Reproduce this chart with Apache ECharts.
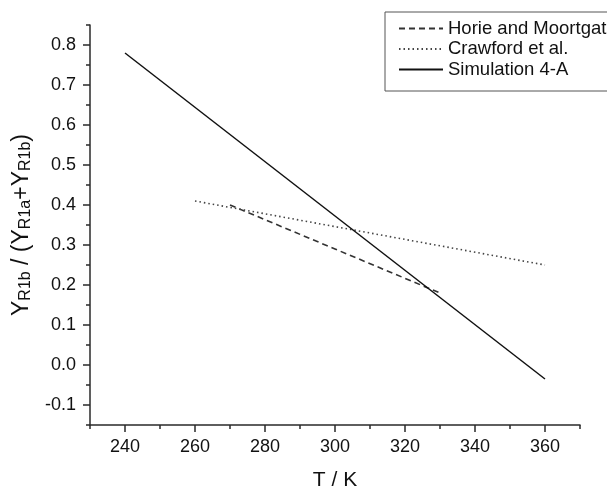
<!DOCTYPE html>
<html>
<head>
<meta charset="utf-8">
<script src="https://cdn.jsdelivr.net/npm/echarts@6/dist/echarts.min.js"></script>
<style>html,body{margin:0;padding:0;background:#fff}#c{width:607px;height:487px}</style>
</head>
<body>
<div id="c"></div>
<script>
// Data
const horieT = [270, 300, 330];
const horieY = [0.40, 0.29, 0.18];
const crawT = [260, 360];
const crawY = [0.41, 0.25];
const simT = [240, 360];
const simY = [0.78, -0.035];

const xMajor = [240, 260, 280, 300, 320, 340, 360];
const xMinor = [230, 250, 270, 290, 310, 330, 350, 370];
const yMajor = [-0.1, 0.0, 0.1, 0.2, 0.3, 0.4, 0.5, 0.6, 0.7, 0.8];
const yMinor = [-0.15, -0.05, 0.05, 0.15, 0.25, 0.35, 0.45, 0.55, 0.65, 0.75, 0.85];

const seriesNames = ['Horie and Moortgat', 'Crawford et al.', 'Simulation 4-A'];

const zip = (a, b) => a.map((v, i) => [v, b[i]]);
const FONT = 'Liberation Sans, Arial, Helvetica, sans-serif';
const AX = '#2a2a2a';

const chart = echarts.init(document.getElementById('c'), null, {renderer: 'canvas'});
chart.setOption({
  animation: false,
  backgroundColor: '#fff',
  grid: {left: 90, right: 27, top: 25, bottom: 62, containLabel: false, outerBoundsMode: 'none'},
  legend: {
    orient: 'vertical',
    left: 385, top: 12,
    padding: [7, 30, 12, 13],
    itemWidth: 44, itemHeight: 14, itemGap: 1.5,
    borderColor: '#555', borderWidth: 1,
    itemStyle: {opacity: 0},
    textStyle: {fontFamily: FONT, fontSize: 18.5, color: '#111'},
    data: seriesNames
  },
  xAxis: [{
    type: 'value', min: 230, max: 370, position: 'bottom',
    name: 'T / K', nameLocation: 'middle', nameGap: 45,
    nameTextStyle: {fontFamily: FONT, fontSize: 21, color: '#111'},
    axisLine: {onZero: false, lineStyle: {color: AX, width: 1.5}},
    axisTick: {show: true, inside: false, length: 7, customValues: xMajor, lineStyle: {color: AX, width: 1.5}},
    axisLabel: {customValues: xMajor, margin: 13, fontFamily: FONT, fontSize: 18, color: '#111'},
    splitLine: {show: false}
  }, {
    type: 'value', min: 230, max: 370, position: 'bottom', offset: 0,
    axisLine: {show: false, onZero: false},
    axisTick: {show: true, inside: false, length: 4, customValues: xMinor, lineStyle: {color: AX, width: 1.5}},
    axisLabel: {show: false},
    splitLine: {show: false}
  }],
  yAxis: [{
    type: 'value', min: -0.15, max: 0.85, position: 'left',
    name: '{n|Y}{s|R1b}{n| / (Y}{s|R1a}{n|+Y}{s|R1b}{n|)}',
    nameLocation: 'middle', nameGap: 52,
    nameTextStyle: {
      fontFamily: FONT, fontSize: 23, color: '#111',
      rich: {
        n: {fontFamily: FONT, fontSize: 23, color: '#111', lineHeight: 24, verticalAlign: 'top'},
        s: {fontFamily: FONT, fontSize: 16, color: '#111', lineHeight: 17, padding: [10, 0, 0, 0], verticalAlign: 'bottom'}
      }
    },
    axisLine: {onZero: false, lineStyle: {color: AX, width: 1.5}},
    axisTick: {show: true, inside: false, length: 7, customValues: yMajor, lineStyle: {color: AX, width: 1.5}},
    axisLabel: {customValues: yMajor, margin: 14, fontFamily: FONT, fontSize: 18, color: '#111',
      formatter: v => v.toFixed(1)},
    splitLine: {show: false}
  }, {
    type: 'value', min: -0.15, max: 0.85, position: 'left', offset: 0,
    axisLine: {show: false, onZero: false},
    axisTick: {show: true, inside: false, length: 4, customValues: yMinor, lineStyle: {color: AX, width: 1.5}},
    axisLabel: {show: false},
    splitLine: {show: false}
  }],
  series: [{
    name: seriesNames[0], type: 'line', data: zip(horieT, horieY),
    symbol: 'none', xAxisIndex: 0, yAxisIndex: 0,
    itemStyle: {color: '#333'},
    lineStyle: {color: '#333', width: 1.6, type: [6, 4]}
  }, {
    name: seriesNames[1], type: 'line', data: zip(crawT, crawY),
    symbol: 'none', xAxisIndex: 0, yAxisIndex: 0,
    itemStyle: {color: '#444'},
    lineStyle: {color: '#444', width: 1.6, type: [1.5, 3]}
  }, {
    name: seriesNames[2], type: 'line', data: zip(simT, simY),
    symbol: 'none', xAxisIndex: 0, yAxisIndex: 0,
    itemStyle: {color: '#111'},
    lineStyle: {color: '#111', width: 1.5, type: 'solid'}
  }]
});
</script>
</body>
</html>
